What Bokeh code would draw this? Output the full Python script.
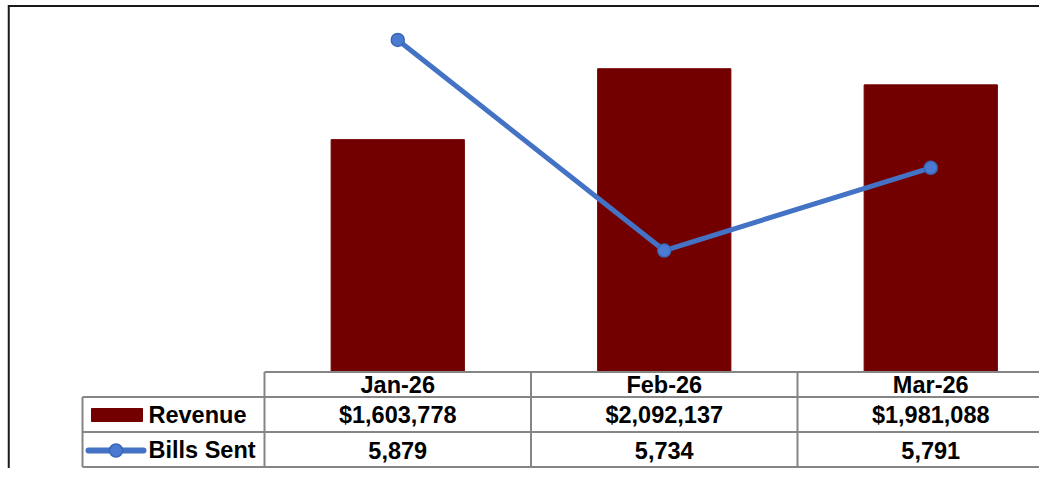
from bokeh.plotting import figure
from bokeh.models import Range1d
from bokeh.core.properties import value
from bokeh.embed import file_html
from bokeh.resources import INLINE
import numpy as np

# ---- data ----
months = ["Jan-26", "Feb-26", "Mar-26"]
revenue = [1603778, 2092137, 1981088]
bills_sent = [5879, 5734, 5791]
series_names = ["Revenue", "Bills Sent"]
revenue_axis = (0, 2500000)
bills_axis = (5650, 5900)

# ---- layout constants (picture pixels) ----
FIG_W, FIG_H = 1039, 468
LEFT, TOP = 0, 0
RIGHT, BOTTOM = LEFT + FIG_W, TOP + FIG_H
PLOT_TOP, PLOT_BOTTOM = 9, 372          # plot area
COL0, COLW = 264, 266.5                 # first data column left edge, width
LEG_LEFT = 82
ROW_LINES = [371.5, 396.5, 431.5, 466.5]  # header top, row1 top, row2 top, bottom
ROW_MID = [384, 414, 449.5]
BORDER_X, BORDER_Y = 8.25, 5.5
FONT = value("Liberation Sans")
FS = "23.5px"
BAR_COLOR = "#730000"
LINE_COLOR = "#4472C4"
MARK_FILL, MARK_LINE = "#4a7bd0", "#3a66b8"
GRID_COLOR = "#858585"


def y_range_for(lo, hi):
    k = (PLOT_BOTTOM - PLOT_TOP) / (hi - lo)
    return Range1d(start=lo - (BOTTOM - PLOT_BOTTOM) / k, end=hi + (PLOT_TOP - TOP) / k)


p = figure(width=FIG_W, height=FIG_H, output_backend="svg", toolbar_location=None,
           x_range=Range1d(LEFT, RIGHT), y_range=Range1d(BOTTOM, TOP),
           min_border=0, outline_line_color=None, background_fill_color="white",
           border_fill_color="white")
p.axis.visible = False
p.grid.visible = False
p.extra_x_ranges = {"cat": Range1d(start=(LEFT - COL0) / COLW, end=(RIGHT - COL0) / COLW)}
p.extra_y_ranges = {"rev": y_range_for(*revenue_axis), "bills": y_range_for(*bills_axis)}

xc = np.arange(len(months)) + 0.5

# bars
p.vbar(x=xc, top=revenue, bottom=0, width=0.5, x_range_name="cat", y_range_name="rev",
       fill_color=BAR_COLOR, line_color=BAR_COLOR)

# line with markers
p.line(x=xc, y=bills_sent, x_range_name="cat", y_range_name="bills",
       line_color=LINE_COLOR, line_width=5, line_join="round", line_cap="round")
p.scatter(x=xc, y=bills_sent, x_range_name="cat", y_range_name="bills",
          size=13, fill_color=MARK_FILL, line_color=MARK_LINE, line_width=1.5)

# ---- data table ----
p.segment(x0=[COL0] + [LEG_LEFT] * 3, x1=[RIGHT] * 4, y0=ROW_LINES, y1=ROW_LINES,
          line_color=GRID_COLOR, line_width=2)
p.segment(x0=[LEG_LEFT], x1=[LEG_LEFT], y0=[ROW_LINES[1]], y1=[ROW_LINES[3]],
          line_color=GRID_COLOR, line_width=2)
bounds = np.arange(len(months) + 1)
p.segment(x0=bounds, x1=bounds, y0=[ROW_LINES[0]] * len(bounds), y1=[ROW_LINES[3]] * len(bounds),
          x_range_name="cat", line_color=GRID_COLOR, line_width=2)

text_kw = dict(text_font=FONT, text_font_size=FS, text_font_style="bold",
               text_baseline="middle", text_color="black")
p.text(x=xc, y=[ROW_MID[0]] * len(months), text=months, x_range_name="cat",
       text_align="center", **text_kw)
p.text(x=xc, y=[ROW_MID[1]] * len(months), text=["${:,}".format(v) for v in revenue],
       x_range_name="cat", text_align="center", **text_kw)
p.text(x=xc, y=[ROW_MID[2]] * len(months), text=["{:,}".format(v) for v in bills_sent],
       x_range_name="cat", text_align="center", **text_kw)

# legend keys
p.quad(left=[91], right=[142], top=[408], bottom=[421], fill_color=BAR_COLOR, line_color=BAR_COLOR)
p.segment(x0=[88], x1=[143], y0=[450], y1=[450], line_color=LINE_COLOR, line_width=6, line_cap="round")
p.scatter(x=[115.5], y=[450], size=13, fill_color=MARK_FILL, line_color=MARK_LINE, line_width=1.5)
p.text(x=[148, 148], y=ROW_MID[1:], text=series_names, text_align="left", **text_kw)

# chart border (left and top visible)
p.segment(x0=[BORDER_X, BORDER_X], x1=[BORDER_X, RIGHT], y0=[BORDER_Y - 1, BORDER_Y],
          y1=[BOTTOM, BORDER_Y], line_color="#1a1a1a", line_width=2)

open("out.html", "w").write(file_html(p, INLINE))
